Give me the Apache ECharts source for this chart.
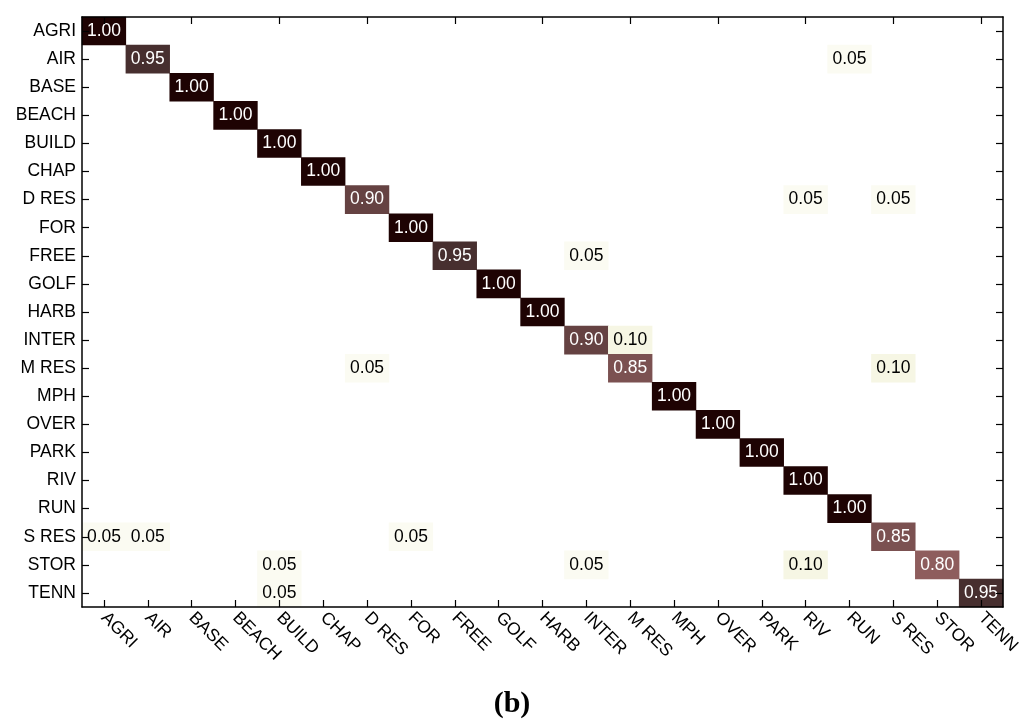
<!DOCTYPE html>
<html>
<head>
<meta charset="utf-8">
<script src="https://cdn.jsdelivr.net/npm/echarts@6/dist/echarts.min.js"></script>
<style>html,body{margin:0;padding:0;background:#fff;}#chart{width:1024px;height:724px;}</style>
</head>
<body>
<div id="chart"></div>
<script>
var classes = ['AGRI','AIR','BASE','BEACH','BUILD','CHAP','D RES','FOR','FREE','GOLF','HARB','INTER','M RES','MPH','OVER','PARK','RIV','RUN','S RES','STOR','TENN'];

// nonzero entries of the confusion matrix: [true class, predicted class, value]
var cells = [
  ['AGRI','AGRI',1.00],
  ['AIR','AIR',0.95], ['AIR','RUN',0.05],
  ['BASE','BASE',1.00],
  ['BEACH','BEACH',1.00],
  ['BUILD','BUILD',1.00],
  ['CHAP','CHAP',1.00],
  ['D RES','D RES',0.90], ['D RES','RIV',0.05], ['D RES','S RES',0.05],
  ['FOR','FOR',1.00],
  ['FREE','FREE',0.95], ['FREE','INTER',0.05],
  ['GOLF','GOLF',1.00],
  ['HARB','HARB',1.00],
  ['INTER','INTER',0.90], ['INTER','M RES',0.10],
  ['M RES','D RES',0.05], ['M RES','M RES',0.85], ['M RES','S RES',0.10],
  ['MPH','MPH',1.00],
  ['OVER','OVER',1.00],
  ['PARK','PARK',1.00],
  ['RIV','RIV',1.00],
  ['RUN','RUN',1.00],
  ['S RES','AGRI',0.05], ['S RES','AIR',0.05], ['S RES','FOR',0.05], ['S RES','S RES',0.85],
  ['STOR','BUILD',0.05], ['STOR','INTER',0.05], ['STOR','RIV',0.10], ['STOR','STOR',0.80],
  ['TENN','BUILD',0.05], ['TENN','TENN',0.95]
];

// reversed "pink" colour map stops
function pink(x){
  var hr = Math.min(1, x/0.375);
  var hg = Math.max(0, Math.min(1, (x-0.375)/0.375));
  var hb = Math.max(0, Math.min(1, (x-0.75)/0.25));
  var r = Math.sqrt((2*x+hr)/3), g = Math.sqrt((2*x+hg)/3), b = Math.sqrt((2*x+hb)/3);
  if (x === 0) { r = 0.118; g = 0.01; b = 0.01; }
  function h(v){ var s = Math.round(v*255).toString(16); return s.length<2?'0'+s:s; }
  return '#'+h(r)+h(g)+h(b);
}
var stops = [];
for (var k = 0; k <= 20; k++) stops.push(pink(1 - k/20));

var data = cells.map(function(c){ return [classes.indexOf(c[1]), classes.indexOf(c[0]), c[2]]; });

var chart = echarts.init(document.getElementById('chart'));
var axisLine = {show:true, lineStyle:{color:'#000', width:1.5}};
var tick = {show:true, inside:true, length:7, alignWithLabel:true, lineStyle:{color:'#000', width:1.2}};
chart.setOption({
  backgroundColor:'#fff',
  animation:false,
  title:{text:'(b)', left:'center', top:684, textStyle:{fontFamily:'Liberation Serif', fontWeight:'bold', fontSize:30, color:'#000'}},
  grid:{left:82, right:21, top:17, bottom:117},
  visualMap:{show:false, type:'continuous', min:0, max:1, dimension:2, inRange:{color:stops}},
  xAxis:[
    {type:'category', data:classes, position:'bottom', z:10, boundaryGap:true,
     axisLine:axisLine, axisTick:tick, splitLine:{show:false},
     axisLabel:{rotate:-45, margin:8, fontSize:17.5, color:'#000', fontFamily:'Liberation Sans', interval:0}},
    {type:'category', data:classes, position:'top', z:10, boundaryGap:true,
     axisLine:axisLine, axisTick:tick, axisLabel:{show:false}, splitLine:{show:false}}
  ],
  yAxis:[
    {type:'category', data:classes, inverse:true, position:'left', z:10, boundaryGap:true,
     axisLine:axisLine, axisTick:tick, splitLine:{show:false},
     axisLabel:{fontSize:17.5, color:'#000', fontFamily:'Liberation Sans', margin:6, interval:0}},
    {type:'category', data:classes, inverse:true, position:'right', z:10, boundaryGap:true,
     axisLine:axisLine, axisTick:tick, axisLabel:{show:false}, splitLine:{show:false}}
  ],
  series:[{
    type:'heatmap', xAxisIndex:0, yAxisIndex:0, data:data,
    label:{show:true, fontSize:17.5, fontFamily:'Liberation Sans',
      formatter:function(p){ var v = p.value[2]; return (v > 0.5 ? '{w|' : '{k|') + v.toFixed(2) + '}'; },
      rich:{w:{color:'#fff', fontSize:17.5, fontFamily:'Liberation Sans'}, k:{color:'#000', fontSize:17.5, fontFamily:'Liberation Sans'}}},
    itemStyle:{borderWidth:0}
  }]
});
</script>
</body>
</html>
